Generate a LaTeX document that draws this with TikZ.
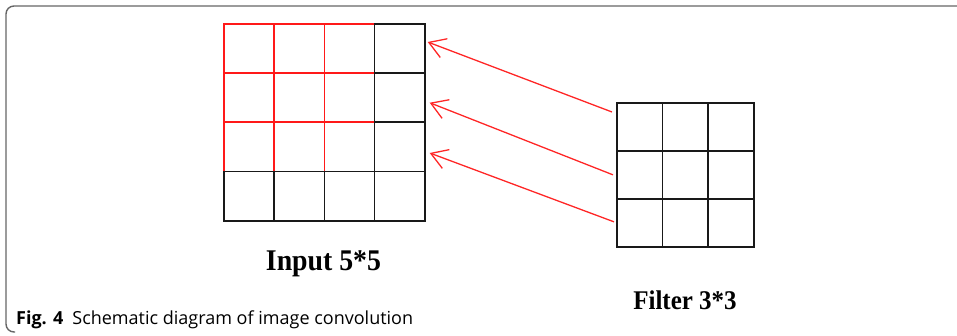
\documentclass[tikz,border=0pt]{standalone}
\usepackage{fontspec}
\setmainfont{Liberation Serif}
\newfontfamily\capfont{Open Sans}
\usetikzlibrary{arrows.meta}

\tikzset{
  frameline/.style={line width=1.4pt, draw=black!60, rounded corners=8pt},
  incell/.style={draw=black!90, line width=1.7pt, minimum width=50.25pt, minimum height=49.25pt, inner sep=0pt, anchor=north west},
  redcell/.style={incell, draw=red!90!white},
  ficell/.style={draw=black!90, line width=1.7pt, minimum width=45.67pt, minimum height=48pt, inner sep=0pt, anchor=north west},
  pointer/.style={draw=red!85!white, line width=1.3pt, -{Straight Barb[length=16pt, width=20pt, line width=1.3pt]}},
  gridlabel/.style={font=\bfseries, inner sep=0pt, anchor=base}
}

\begin{document}
\begin{tikzpicture}[x=1pt, y=-1pt]
\useasboundingbox (0,0) rectangle (957,336);

% outer frame (top and left side only)
\draw[frameline] (957,6) -- (6,6) -- (6,332) -- (15,332);

% input grid: red 3x3 window first, black cells on top
\foreach \r in {1,2,3}
  \foreach \c in {1,2,3}
    \node[redcell] (in-\r-\c) at ({223+(\c-1)*50.25},{23+(\r-1)*49.25}) {};
\foreach \r in {1,2,3,4}
  \node[incell] (in-\r-4) at ({223+3*50.25},{23+(\r-1)*49.25}) {};
\foreach \c in {1,2,3}
  \node[incell] (in-4-\c) at ({223+(\c-1)*50.25},{23+3*49.25}) {};

% filter grid
\foreach \r in {1,2,3}
  \foreach \c in {1,2,3}
    \node[ficell] (fl-\r-\c) at ({616+(\c-1)*45.67},{102+(\r-1)*48}) {};

% pointers from the filter to the input window
\draw[pointer] ([shift={(-4,10)}]fl-1-1.north west) -- ([shift={(2,19)}]in-1-4.north east);
\draw[pointer] ([shift={(-3,0)}]fl-2-1.west) -- ([shift={(4,5)}]in-2-4.east);
\draw[pointer] ([shift={(-2,-1)}]fl-3-1.west) -- ([shift={(4,6)}]in-3-4.east);

% labels
\node[gridlabel, font=\bfseries\fontsize{27.8}{30}\selectfont, yscale=1.08] (inlabel) at (323.5,270) {Input 5*5};
\node[gridlabel, font=\bfseries\fontsize{25}{28}\selectfont, yscale=1.08] (fllabel) at (685,309) {Filter 3*3};

% caption
\node[inner sep=0pt, anchor=base west, font=\capfont\fontsize{18}{20}\selectfont] (caption) at (16,324)
  {\textbf{Fig. 4}\hspace{9pt}Schematic diagram of image convolution};
\end{tikzpicture}
\end{document}
